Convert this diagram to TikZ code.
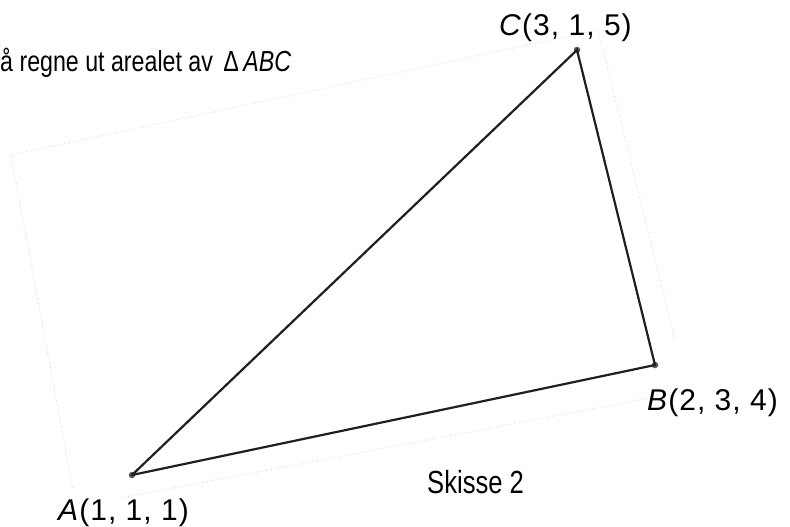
\documentclass[tikz,border=0pt]{standalone}
\usepackage{fontspec}
\setmainfont{Liberation Sans}
\newfontfamily\lblfont{Liberation Sans}[LetterSpace=3.5]
\newfontfamily\narrowfont{Liberation Sans}[FakeStretch=0.8]
\begin{document}
\begin{tikzpicture}[x=1pt,y=-1pt,
  edge/.style={line width=2.2pt,black!88,line cap=round},
  frame/.style={line width=0.6pt,black!25,dotted},
  vtx/.style={circle,fill=black!65,inner sep=0pt,minimum size=6.5pt},
  lbl/.style={inner sep=0pt,anchor=base west,font=\lblfont\fontsize{30}{34}\selectfont},
  txt/.style={inner sep=0pt,anchor=base west}]
\useasboundingbox (0,0) rectangle (790,527);
% faint frame
\coordinate (TL) at (11,155);
\coordinate (TR) at (598,30);
\coordinate (R1) at (675,340);
\coordinate (B1) at (650,398);
\coordinate (B2) at (120,498);
\coordinate (L1) at (73,490);
\draw[frame] (TL) -- (TR) -- (R1);
\draw[frame] (B1) -- (B2);
\draw[frame] (TL) -- (L1);
% triangle
\node[vtx] (A) at (132,475) {};
\node[vtx] (B) at (655,365) {};
\node[vtx] (C) at (577,50) {};
\draw[edge] (A.center) -- (B.center) -- (C.center) -- (A.center);
% labels
\node[lbl] (LA) at (58,520) {\textit{A}(1, 1, 1)};
\node[lbl] (LB) at (647,410) {\textit{B}(2, 3, 4)};
\node[lbl] (LC) at (499,36) {\textit{C}(3, 1, 5)};
\node[txt,font=\narrowfont\fontsize{32}{36}\selectfont] (S) at (427,493) {Skisse 2};
\node[txt,font=\narrowfont\fontsize{29}{33}\selectfont] (T) at (0,71) {å regne ut arealet av \,∆\,\textit{ABC}};
\end{tikzpicture}
\end{document}
